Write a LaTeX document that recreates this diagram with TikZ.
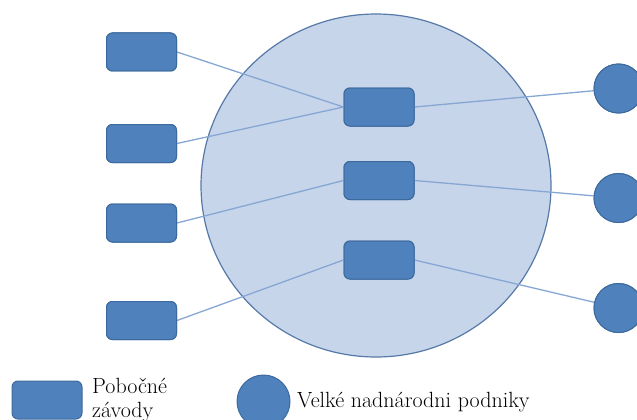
\documentclass[tikz,border=0pt]{standalone}
\usepackage{fontspec}
\begin{document}
\definecolor{boxfill}{HTML}{4F81BD}
\definecolor{boxline}{HTML}{3D6A9E}
\definecolor{bigfill}{HTML}{C7D5EA}
\definecolor{bigline}{HTML}{5679A8}
\definecolor{linkc}{HTML}{86A7D3}
\begin{tikzpicture}[x=1pt,y=-1pt,
  unit/.style={draw=boxline,fill=boxfill,line width=1pt,rounded corners=6pt,
    minimum width=70pt,minimum height=38pt,inner sep=0pt},
  corp/.style={circle,draw=boxline,fill=boxfill,line width=1pt,
    minimum size=49pt,inner sep=0pt},
  link/.style={draw=linkc,line width=1.3pt},
  legtext/.style={font=\rmfamily\fontsize{22}{25}\selectfont,inner sep=0pt,text=black}]
\useasboundingbox (0,0) rectangle (637,420);
% large shared area
\draw[fill=bigfill,draw=bigline,line width=1.2pt] (376,185.5) ellipse [x radius=175, y radius=171.5];
% branch plants on the left
\node[unit] (l1) at (141.5,52) {};
\node[unit] (l2) at (141.5,143.5) {};
\node[unit] (l3) at (141.5,223) {};
\node[unit] (l4) at (141.5,320.5) {};
% plants inside the area
\node[unit] (m1) at (379,107) {};
\node[unit] (m2) at (379,180.5) {};
\node[unit] (m3) at (379,260) {};
% corporations on the right
\node[corp] (c1) at (618.5,88.5) {};
\node[corp] (c2) at (618.5,198) {};
\node[corp] (c3) at (618.5,308) {};
% links
\draw[link] (l1.east) -- (m1.west);
\draw[link] (l2.east) -- (m1.west);
\draw[link] (l3.east) -- (m2.west);
\draw[link] (l4.east) -- (m3.west);
\draw[link] (m1.east) -- (c1);
\draw[link] (m2.east) -- (c2);
\draw[link] (m3.east) -- (c3);
% redraw boxes over the link ends
\foreach \n in {l1,l2,l3,l4,m1,m2,m3} \node[unit] at (\n) {};
\foreach \n in {c1,c2,c3} \node[corp] at (\n) {};
% legend
\node[unit] (k1) at (47,400) {};
\node[legtext,anchor=base west] (k1a) at (92,393) {Pobočné};
\node[legtext,anchor=base west] (k1b) at (92,417) {závody};
\node[corp,minimum size=53pt] (k2) at (263.5,401.5) {};
\node[legtext,anchor=base west] (k2a) at (297,407) {Velké nadnárodni podniky};
\end{tikzpicture}
\end{document}
